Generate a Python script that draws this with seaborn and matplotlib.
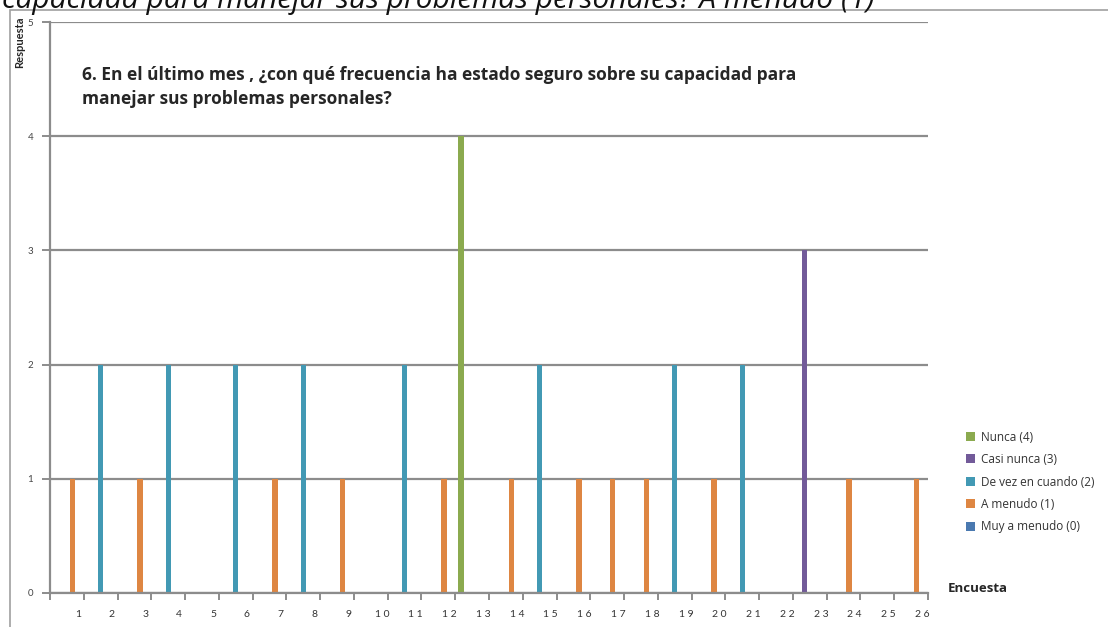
import pandas as pd
import seaborn as sns
import matplotlib.pyplot as plt
from matplotlib.patches import Rectangle

# survey data: one answer per survey
encuesta = list(range(1, 27))
respuesta = [1, 2, 1, 2, 0, 2, 1, 2, 1, 0, 2, 1, 4,
             1, 2, 1, 1, 1, 2, 1, 2, 0, 3, 1, 0, 1]
categorias = ['Nunca (4)', 'Casi nunca (3)', 'De vez en cuando (2)',
              'A menudo (1)', 'Muy a menudo (0)']
colores = ['#8BAA4F', '#725A99', '#4299B4', '#DE8642', '#4A79B0']
cat_por_valor = {4: categorias[0], 3: categorias[1], 2: categorias[2],
                 1: categorias[3], 0: categorias[4]}

df = pd.DataFrame({
    'Encuesta': [str(e) for e in encuesta],
    'Respuesta': respuesta,
    'Categoria': [cat_por_valor[v] for v in respuesta],
})

sns.set_style('white')
plt.rcParams['font.family'] = ['Lato', 'DejaVu Sans']

fig = plt.figure(figsize=(11.08, 6.27), dpi=100)
ax = fig.add_axes([50 / 1108, 1 - 593 / 627, (928 - 50) / 1108, (593 - 22) / 627])

sns.barplot(
    data = df,
    x = 'Encuesta',
    y = 'Respuesta',
    hue = 'Categoria',
    hue_order = categorias,
    palette = colores,
    saturation = 1,
    order = [str(e) for e in encuesta],
    dodge = True,
    width = 0.82,
    gap = 0.05,
    linewidth = 0,
    ax = ax
)

handles, labels = ax.get_legend_handles_labels()
ax.get_legend().remove()

ax.set_xlim(-0.5, len(encuesta) - 0.5)
ax.set_ylim(0, 5)
ax.set_yticks(range(0, 6))
ax.yaxis.grid(True, color='#8c8c8c', linewidth=1.6)
ax.set_axisbelow(True)
for s in ['top', 'right']:
    ax.spines[s].set_visible(False)
for s in ['left', 'bottom']:
    ax.spines[s].set_color('#8c8c8c')
    ax.spines[s].set_linewidth(1.6)

# ticks on group boundaries, labels slightly right of group centres
ax.set_xticks([i - 0.5 for i in range(len(encuesta) + 1)])
ax.set_xticklabels([])
ax.set_xticks([i + 0.33 for i in range(len(encuesta))], minor=True)
ax.set_xticklabels([' '.join(str(e)) for e in encuesta], minor=True)
ax.tick_params(axis='x', which='major', direction='out', length=5,
               width=1.4, color='#8c8c8c', bottom=True)
ax.tick_params(axis='x', which='minor', length=0, pad=12,
               labelsize=7.5, labelcolor='#333333')
ax.tick_params(axis='y', direction='out', length=6, width=1.4,
               color='#8c8c8c', left=True, pad=6,
               labelsize=7, labelcolor='#444444')
ax.set_xlabel('')
ax.set_ylabel('')

ax.text(82 / 1108, 1 - 104 / 627,
        '6. En el último mes , ¿con qué frecuencia ha estado seguro sobre su capacidad para\n'
        'manejar sus problemas personales?',
        transform=fig.transFigure, fontsize=12.5, fontweight='bold',
        family=['Open Sans', 'DejaVu Sans'],
        va='baseline', ha='left', linespacing=1.4)

fig.text(20 / 1108, 1 - 17 / 627, 'Respuesta', rotation=90, fontsize=8,
         fontweight='bold', ha='center', va='top')
fig.text(948 / 1108, 1 - 592 / 627, 'Encuesta', fontsize=9.5,
         fontweight='bold', family=['Open Sans', 'DejaVu Sans'],
         ha='left', va='baseline')

# cropped caption at the very top
fig.text(2 / 1108, 1 - 8 / 627,
         'capacidad para manejar sus problemas personales? A menudo (1)',
         fontsize=21.5, style='italic', family=['Open Sans', 'DejaVu Sans'],
         ha='left', va='baseline', color='#111111')

# outer chart frame
fig.add_artist(Rectangle((10 / 1108, -0.1), 1.2, 1.1 - 10 / 627,
                         transform=fig.transFigure, fill=False,
                         edgecolor='#a0a0a0', linewidth=1.2))

fig.legend(handles, labels, loc='upper left',
           bbox_to_anchor=(955 / 1108, 1 - 420 / 627), frameon=False,
           prop={'family': ['Open Sans', 'DejaVu Sans'], 'size': 8.5},
           handlelength=0.8, handleheight=0.8,
           handletextpad=0.5, labelspacing=0.8, labelcolor='#333333')

fig.savefig('out.png', dpi=100)
